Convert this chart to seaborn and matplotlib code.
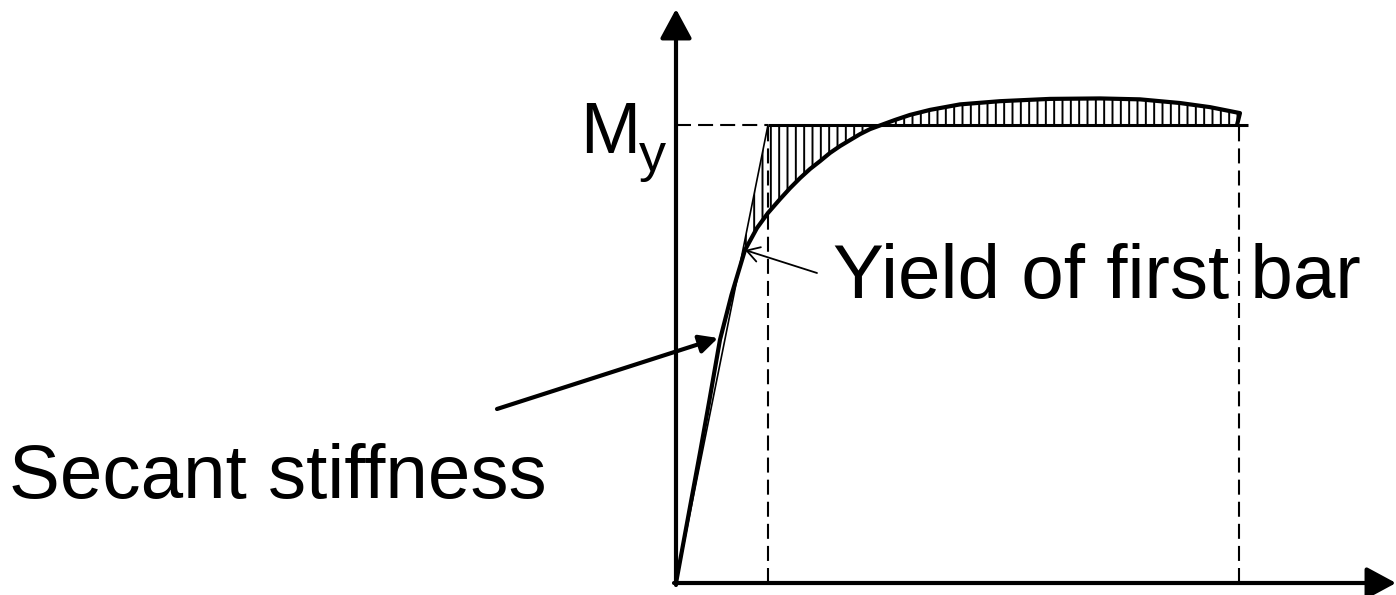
import numpy as np
import matplotlib
matplotlib.use("Agg")
import matplotlib.pyplot as plt
import seaborn as sns

# ---- data (curvature phi / phi_y, moment M / M_y) ----
phi_curve = [0.0, 0.266, 0.364, 0.478, 0.603, 0.750, 0.880, 1.000, 1.130, 1.239,
             1.348, 1.457, 1.565, 1.674, 1.783, 1.891, 2.000, 2.109, 2.217, 2.380,
             2.543, 2.761, 3.087, 3.522, 4.065, 4.609, 5.043, 5.478, 5.804, 6.130, 6.098]
m_curve = [0.0, 0.290, 0.400, 0.531, 0.629, 0.727, 0.775, 0.808, 0.838, 0.862,
           0.884, 0.904, 0.921, 0.939, 0.954, 0.967, 0.980, 0.991, 0.999, 1.011,
           1.022, 1.033, 1.045, 1.052, 1.057, 1.058, 1.056, 1.048, 1.039, 1.026, 1.000]
phi_secant = [0.0, 1.0]
m_secant = [0.0, 1.0]
phi_yield_bar = 0.750
m_yield_bar = 0.727
phi_y = 1.0
phi_u = 6.12
phi_my_end = 6.22
M_y = 1.0
label_my = "M"
label_my_sub = "y"
label_secant = "Secant stiffness"
label_yield = "Yield of first bar"

# ---- figure / pixel mapping ----
W, H = 1396, 595
ox, oy = 676, 583          # origin pixel
sx, sy = 92.0, 458.0       # pixels per unit

sns.set_theme(style="white")
plt.rcParams["font.family"] = ["Liberation Sans", "DejaVu Sans"]
plt.rcParams["hatch.color"] = "black"
plt.rcParams["hatch.linewidth"] = 1.4

fig = plt.figure(figsize=(W / 100, H / 100), dpi=100)
ax = fig.add_axes([0, 0, 1, 1])
ax.set_xlim(-ox / sx, (W - ox) / sx)
ax.set_ylim(-(H - oy) / sy, oy / sy)
ax.axis("off")

def dx(px):
    return (px - ox) / sx

def dy(py):
    return (oy - py) / sy

# hatched area between curve and min(secant, My)
phi_arr = np.array(phi_curve)
m_arr = np.array(m_curve)
sel = (phi_arr >= phi_yield_bar) & (np.arange(len(phi_arr)) < len(phi_arr) - 1)
ph = phi_arr[sel]
upper = np.minimum(ph, M_y)
ax.fill_between(ph, m_arr[sel], upper, facecolor="none", edgecolor="black",
                hatch="||", linewidth=0)

# dashed reference lines
dash = (0, (7.2, 3.4))
ax.plot([0, phi_y], [M_y, M_y], color="black", lw=1.5, linestyle=dash)
ax.plot([phi_y, phi_y], [0, M_y], color="black", lw=1.5, linestyle=dash)
ax.plot([phi_u, phi_u], [0, M_y], color="black", lw=1.5, linestyle=dash)
# solid My line over hatched area
ax.plot([phi_y, phi_my_end], [M_y, M_y], color="black", lw=2.2, solid_capstyle="butt")

# secant line (thin) and moment-curvature curve (thick)
sns.lineplot(x=phi_secant, y=m_secant, ax=ax, color="black", lw=1.2, sort=False)
sns.lineplot(x=phi_curve, y=m_curve, ax=ax, color="black", lw=3.0, sort=False)

# axes arrows
ax.annotate("", xy=(0, dy(9)), xytext=(0, dy(oy + 2)),
            arrowprops=dict(arrowstyle="-|>,head_length=1.0,head_width=0.54",
                            mutation_scale=18, lw=3, color="black",
                            shrinkA=0, shrinkB=0))
ax.annotate("", xy=(dx(1396), 0), xytext=(dx(ox - 2), 0),
            arrowprops=dict(arrowstyle="-|>,head_length=1.0,head_width=0.54",
                            mutation_scale=18, lw=3, color="black",
                            shrinkA=0, shrinkB=0))

# annotation arrows
ax.annotate("", xy=(dx(718), dy(338)), xytext=(dx(497), dy(409)),
            arrowprops=dict(arrowstyle="-|>,head_length=1.0,head_width=0.5",
                            mutation_scale=11, lw=3, color="black",
                            shrinkA=0, shrinkB=0))
ax.annotate("", xy=(phi_yield_bar, m_yield_bar), xytext=(dx(817), dy(273)),
            arrowprops=dict(arrowstyle="->,head_length=1.0,head_width=0.6",
                            mutation_scale=9, lw=1.3, color="black",
                            shrinkA=0, shrinkB=0))

# texts
def ftext(px, py, s, size):
    fig.text(px / W, 1 - py / H, s, fontsize=size, color="black",
             ha="left", va="baseline")

ftext(9, 498, label_secant, 55)
ftext(833, 298, label_yield, 55)
ftext(580, 153, label_my, 52)
ftext(639, 171, label_my_sub, 39)

fig.savefig("out.png", dpi=100, facecolor="white")
